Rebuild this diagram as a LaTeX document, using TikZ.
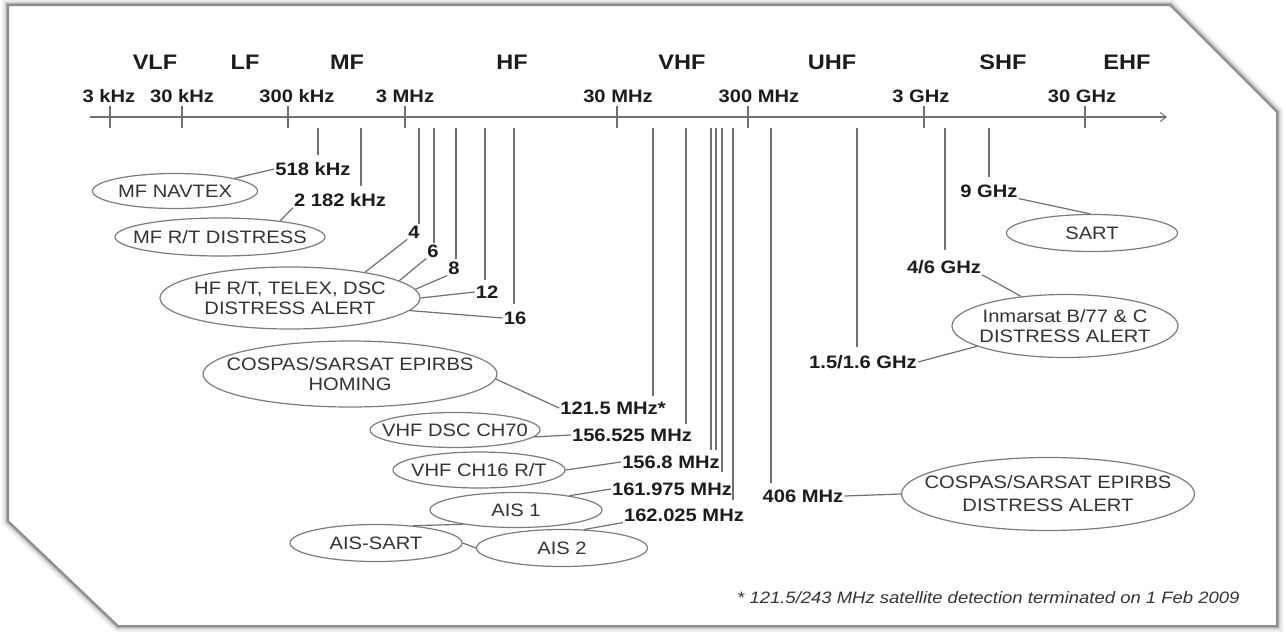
\documentclass[tikz,border=0pt]{standalone}
\usepackage{fontspec}
\setmainfont{Liberation Sans}[FakeStretch=1.12]
\usetikzlibrary{shapes.geometric,arrows.meta}
\definecolor{lncol}{HTML}{707070}
\definecolor{elcol}{HTML}{7C7C7C}
\definecolor{txcol}{HTML}{333333}
\definecolor{lbcol}{HTML}{1C1C1C}
\definecolor{frcol}{HTML}{8C8C8C}
\begin{document}
\begin{tikzpicture}[x=1pt,y=-1pt,
  ell/.style={ellipse, draw=elcol, line width=1.2pt, inner sep=0pt},
  etext/.style={align=center, text=txcol, inner sep=0pt, font=\fontsize{18}{20}\selectfont},
  lab/.style={font=\bfseries\fontsize{18}{20}\selectfont, text=lbcol, inner sep=1pt},
  band/.style={font=\bfseries\fontsize{21}{23}\selectfont, text=lbcol, inner sep=0pt},
  fline/.style={draw=lncol, line width=1.5pt},
  conn/.style={draw=lncol, line width=1.2pt},
  tickln/.style={draw=lncol, line width=1.4pt},
  axisln/.style={draw=lncol, line width=1.3pt, -{Straight Barb[length=6pt,width=9pt,line width=1pt]}},
  frame/.style={line join=miter}]
\useasboundingbox (0,0) rectangle (1286,632);
\fill[white] (0,0) rectangle (1286,632);
% frame with soft shadow
\coordinate (f1) at (8,5);
\coordinate (f2) at (1170,5);
\coordinate (f3) at (1277,112);
\coordinate (f4) at (1277,626);
\coordinate (f5) at (118,626);
\coordinate (f6) at (8,521);
\foreach \w/\c in {12/6,9/10,6/18,4/30}{
  \draw[draw=black!\c, line width=\w pt, frame, shift={(1.5,2)}] (f1) -- (f2) -- (f3) -- (f4) -- (f5) -- (f6) -- cycle;
}
\fill[white] (f1) -- (f2) -- (f3) -- (f4) -- (f5) -- (f6) -- cycle;
\draw[draw=frcol, line width=2pt, frame] (f1) -- (f2) -- (f3) -- (f4) -- (f5) -- (f6) -- cycle;

% axis
\coordinate (axs) at (90,117);
\coordinate (axe) at (1167,117);
\draw[axisln] (axs) -- (axe);

% band labels
\node[band] (bVLF) at (155,62) {VLF};
\node[band] (bLF) at (245,62) {LF};
\node[band] (bMF) at (347,62) {MF};
\node[band] (bHF) at (512,62) {HF};
\node[band] (bVHF) at (682,62) {VHF};
\node[band] (bUHF) at (832,62) {UHF};
\node[band] (bSHF) at (1003,62) {SHF};
\node[band] (bEHF) at (1127,62) {EHF};

% ticks and tick labels
\foreach \n/\x/\lx/\t in {t1/110/109/3 kHz, t2/182/182/30 kHz, t3/288/297/300 kHz, t4/405/405/3 MHz, t5/617/618/30 MHz, t6/748/759/300 MHz, t7/924/921/3 GHz, t8/1085/1082/30 GHz}{
  \coordinate (\n a) at (\x,106);
  \coordinate (\n b) at (\x,128);
  \draw[tickln] (\n a) -- (\n b);
  \node[lab] (\n l) at (\lx,96) {\t};
}

% frequency lines
\foreach \n/\x/\y in {v518/318/155, v2182/361/186, v4/419/224, v6/434/243, v8/456/259, v12/485/280, v16/514/304, v1215/653/396, v156525/686/424, vA/711/450, vB/716/450, vC/722/472, vD/733/500, v406/771/483, v15/857/347, v46/945/250, v9/989/177}{
  \coordinate (\n t) at (\x,128);
  \coordinate (\n b) at (\x,\y);
  \draw[fline] (\n t) -- (\n b);
}

% frequency labels
\node[lab] (l518) at (313,169) {518 kHz};
\node[lab] (l2182) at (340,200) {2 182 kHz};
\node[lab] (l4) at (414,232) {4};
\node[lab] (l6) at (433,251) {6};
\node[lab] (l8) at (454,268) {8};
\node[lab] (l12) at (487,292) {12};
\node[lab] (l16) at (515,318) {16};
\node[lab] (l1215) at (613,408) {121.5 MHz*};
\node[lab] (l156525) at (632,435) {156.525 MHz};
\node[lab] (l1568) at (671,462) {156.8 MHz};
\node[lab] (l161975) at (672,489) {161.975 MHz};
\node[lab] (l162025) at (684,515) {162.025 MHz};
\node[lab] (l9) at (989,191) {9 GHz};
\node[lab] (l46) at (944,267) {4/6 GHz};
\node[lab] (l15) at (863,362) {1.5/1.6 GHz};
\node[lab] (l406) at (803,496) {406 MHz};

% ellipses (fixed size, text as centred label)
\node[ell, minimum width=165pt, minimum height=35pt, label={[etext]center:MF NAVTEX}] (navtex) at (175,191) {};
\node[ell, minimum width=210pt, minimum height=38pt, label={[etext]center:MF R/T DISTRESS}] (mfrt) at (220,237) {};
\node[ell, minimum width=260pt, minimum height=62pt, label={[etext]center:{HF R/T, TELEX, DSC\\DISTRESS ALERT}}] (hf) at (290,298) {};
\node[ell, minimum width=294pt, minimum height=66pt, label={[etext]center:{COSPAS/SARSAT EPIRBS\\HOMING}}] (homing) at (350,374) {};
\node[ell, minimum width=170pt, minimum height=35pt, label={[etext]center:VHF DSC CH70}] (dsc70) at (455,430) {};
\node[ell, minimum width=172pt, minimum height=36pt, label={[etext]center:VHF CH16 R/T}] (ch16) at (479,470) {};
\node[ell, minimum width=172pt, minimum height=35pt, label={[etext]center:AIS 1}] (ais1) at (516,510) {};
\node[ell, minimum width=171pt, minimum height=37pt, label={[etext]center:AIS 2}] (ais2) at (562,548) {};
\node[ell, minimum width=172pt, minimum height=37pt, label={[etext]center:AIS-SART}] (aissart) at (376,543) {};
\node[ell, minimum width=171pt, minimum height=37pt, label={[etext]center:SART}] (sart) at (1092,233) {};
\node[ell, minimum width=226pt, minimum height=63pt, label={[etext]center:{Inmarsat B/77 \& C\\DISTRESS ALERT}}] (inmarsat) at (1065,326) {};
\node[ell, minimum width=293pt, minimum height=73pt, label={[etext]center:{COSPAS/SARSAT EPIRBS\\[3pt]DISTRESS ALERT}}] (cosdist) at (1048,494) {};

% connectors
\draw[conn] (navtex.12) -- (l518.west);
\draw[conn] (mfrt.15) -- (l2182.south west);
\draw[conn] (hf.19) -- (l4.south west);
\draw[conn] (hf.9) -- (l6.south west);
\draw[conn] (hf.4) -- (l8.south west);
\draw[conn] (hf.0) -- (l12.west);
\draw[conn] (hf.-6) -- (l16.west);
\draw[conn] (homing.-2) -- (l1215.west);
\draw[conn] (dsc70.-5) -- (l156525.west);
\draw[conn] (ch16.0) -- (l1568.west);
\draw[conn] (ais1.15) -- (l161975.west);
\draw[conn] (ais2.40) -- (l162025.south west);
\draw[conn] (aissart.25) -- (ais1.195);
\draw[conn] (aissart.0) -- (ais2.180);
\draw[conn] (l9.south east) -- (sart.95);
\draw[conn] (l46.south east) -- (inmarsat.146);
\draw[conn] (l15.east) -- (inmarsat.193);
\draw[conn] (l406.east) -- (cosdist.west);

% footnote
\node[font=\itshape\fontsize{16.5}{18}\selectfont, text=txcol, anchor=west, inner sep=0pt] (note) at (737,598) {* 121.5/243 MHz satellite detection terminated on 1 Feb 2009};
\end{tikzpicture}
\end{document}
